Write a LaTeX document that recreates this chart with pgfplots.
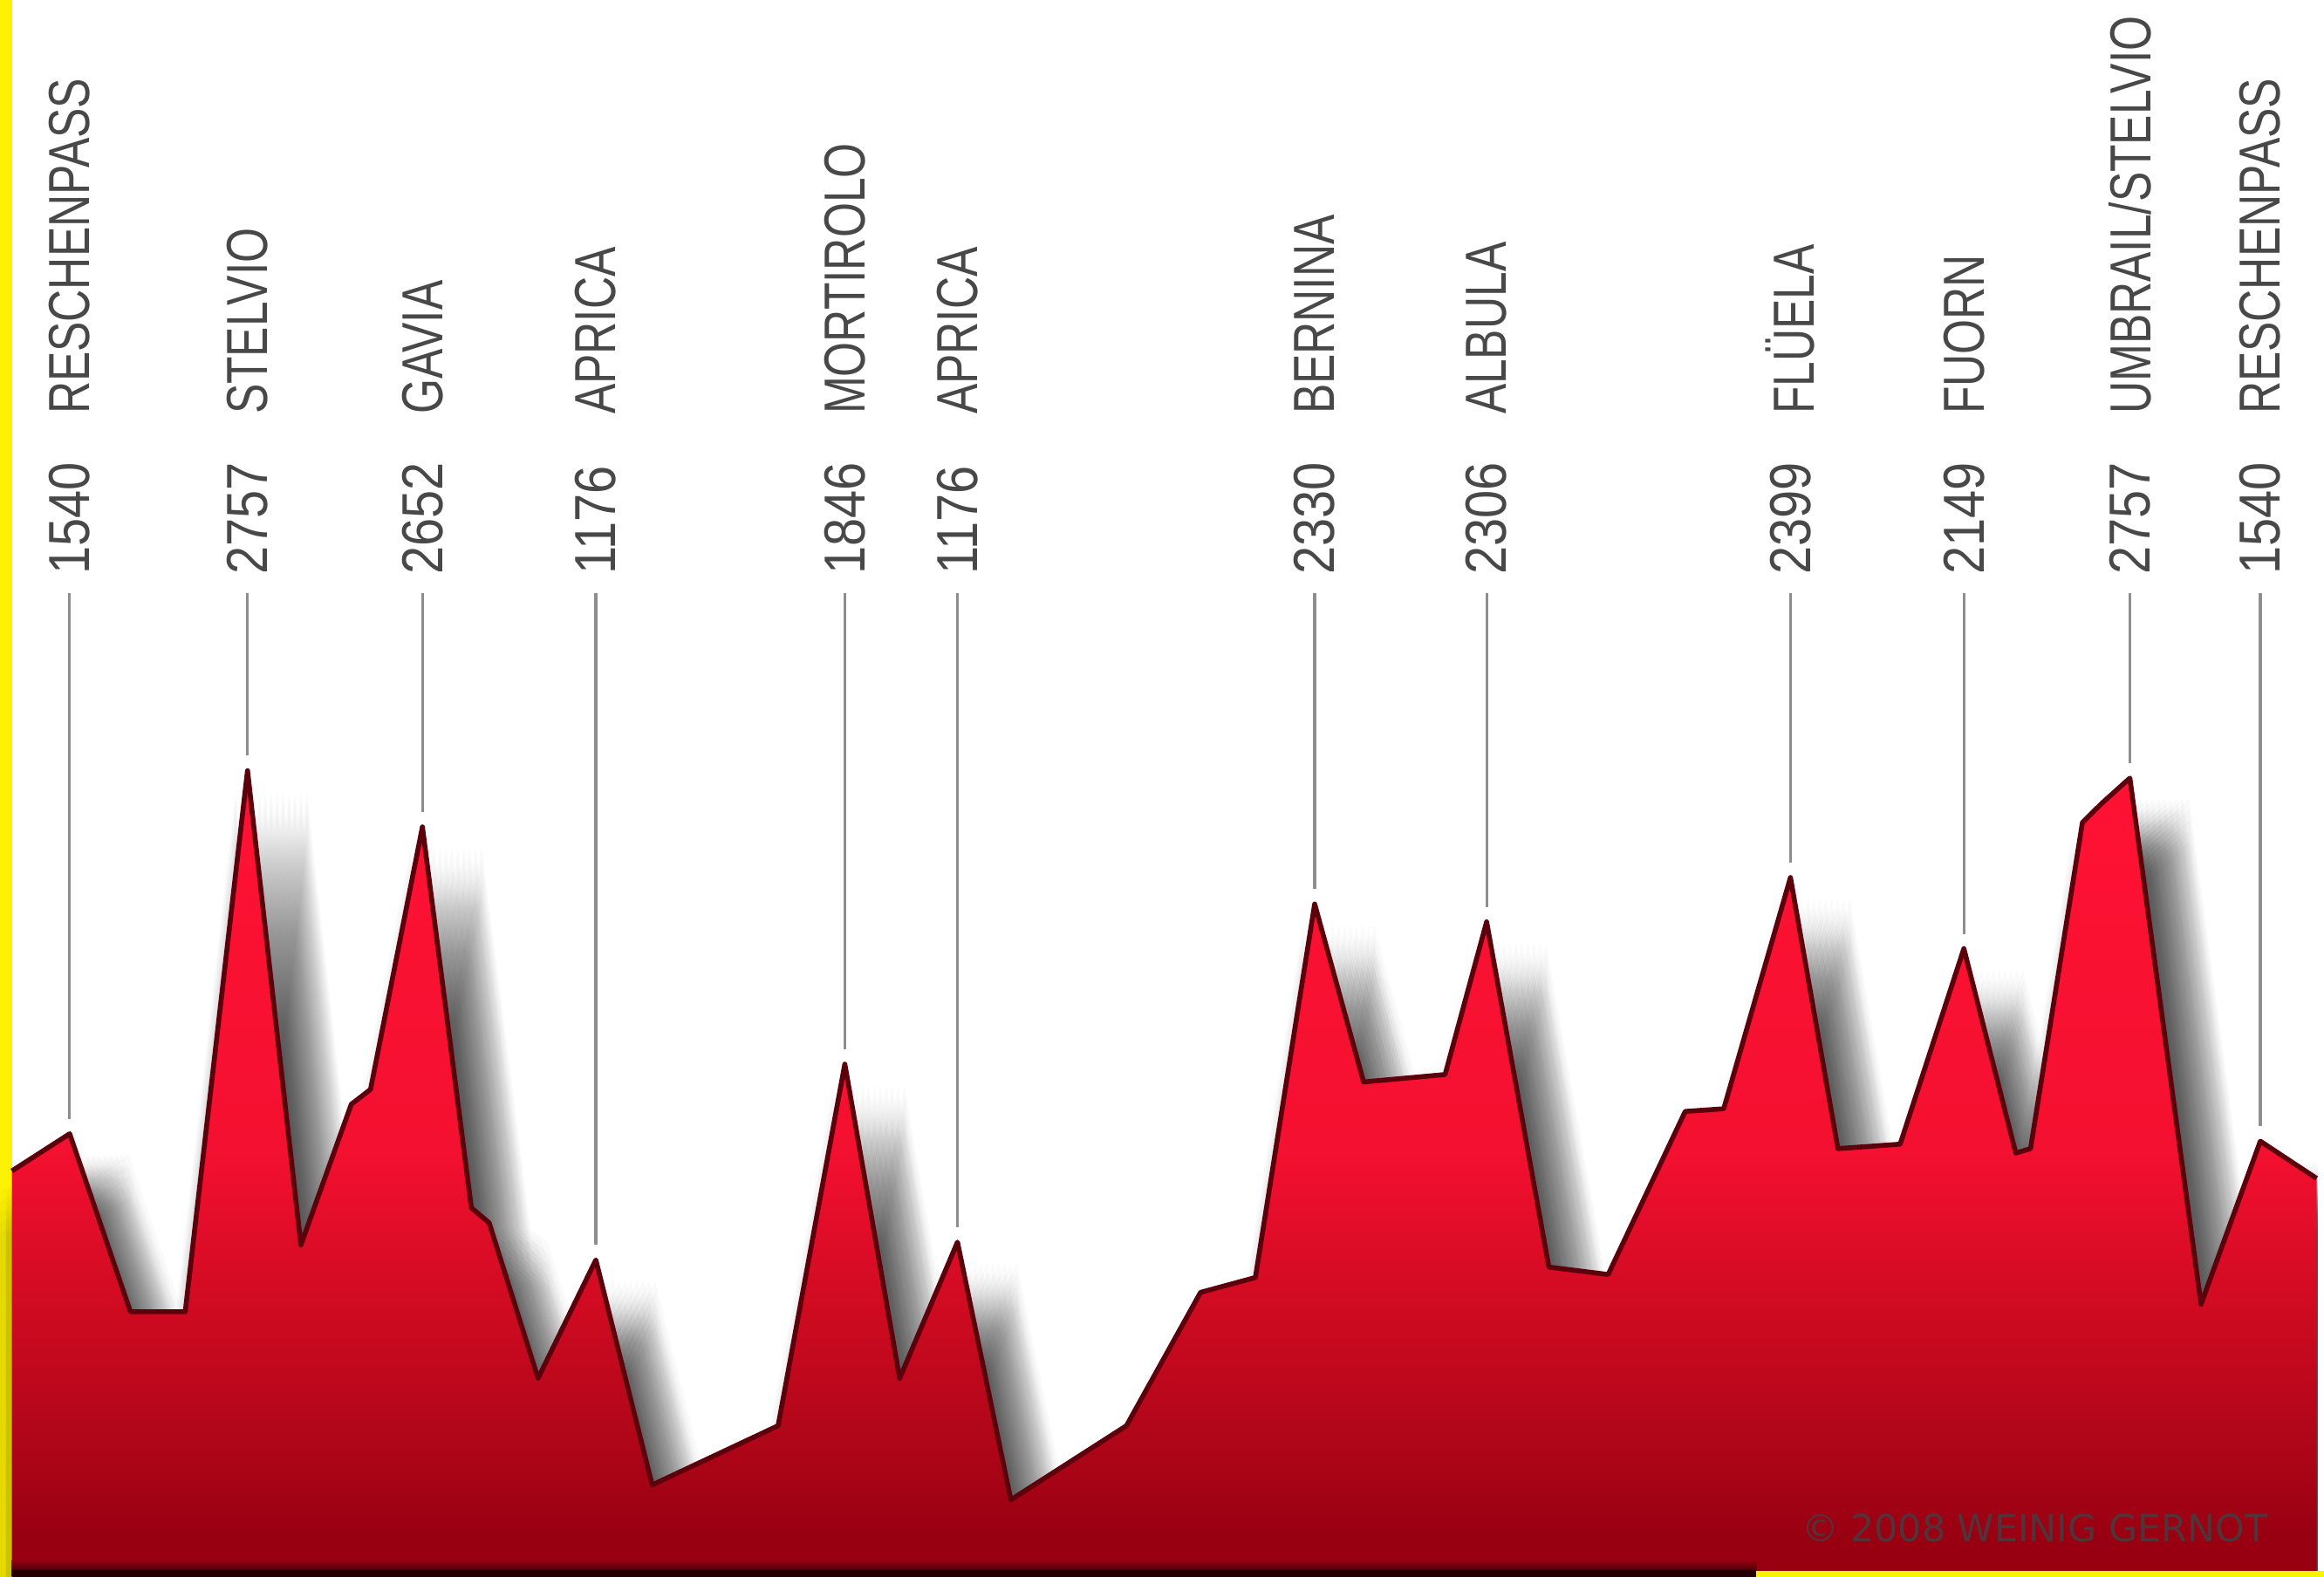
\documentclass[border=0pt]{standalone}
\usepackage{fontspec}
\setmainfont{Liberation Sans}
\newfontfamily\labfont{Liberation Sans}[FakeStretch=0.775]
\newfontfamily\numfont{Liberation Sans}[FakeStretch=0.87]
\newfontfamily\copyfont{DejaVu Sans}
\usepackage{pgfplots}
\pgfplotsset{compat=1.18}
\usepackage{pgfplotstable}

\definecolor{redtop}{HTML}{FF1234}
\definecolor{redhi}{HTML}{F41030}
\definecolor{redmid}{HTML}{CC0A20}
\definecolor{redlow}{HTML}{AA0517}
\definecolor{redbot}{HTML}{980011}
\definecolor{edge}{HTML}{5C000C}
\definecolor{labgray}{HTML}{484848}
\definecolor{linegray}{HTML}{8E8E8E}
\definecolor{copygray}{HTML}{4A3A3F}

% tikz maps the middle 25bp..75bp of the shading onto the path
\pgfdeclareverticalshading{relief}{100bp}{%
  color(0bp)=(redbot); color(27.5bp)=(redbot); color(32bp)=(redlow);
  color(41bp)=(redmid); color(51.5bp)=(redhi); color(75bp)=(redtop);
  color(100bp)=(redtop)}

% profile: x = position along the route, alt = height in m
\pgfplotstableread{
x alt
8 1441
47 1566
88 968
125 968
167 2786
203 1192
237 1665
250 1715
285 2597
318 1317
330 1267
363 744
402 1142
440 386
525 585
570 1800
607 744
646 1202
682 336
760 585
810 1033
847 1083
887 2338
920 1740
975 1765
1003 2278
1045 1118
1085 1093
1137 1641
1163 1650
1208 2427
1240 1516
1282 1531
1325 2188
1360 1501
1370 1516
1405 2612
1418 2676
1437 2761
1485 993
1525 1541
1563 1416
}\profile

% passes: x, lower end of the leader line, its length, labels
\pgfplotstableread[col sep=comma]{
x,lo,len,num,name
47,1616,1767,1540,RESCHENPASS
167,2836,547,2757,STELVIO
285,2647,736,2652,GAVIA
402,1192,2191,1176,APRICA
570,1850,1533,1846,MORTIROLO
646,1252,2131,1176,APRICA
887,2388,995,2330,BERNINA
1003,2328,1055,2306,ALBULA
1208,2477,906,2399,FLÜELA
1325,2238,1145,2149,FUORN
1437,2811,572,2757,UMBRAIL/STELVIO
1525,1591,1792,1540,RESCHENPASS
}\passes

\begin{document}
\begin{tikzpicture}
\begin{axis}[
    scale only axis,
    width=666pt, height=452pt,
    xmin=0, xmax=1568,
    ymin=76.7, ymax=5375.5,
    axis lines=none, ticks=none,
    axis background/.style={fill=white},
  ]
  % yellow strip on the left
  \fill[yellow] (axis cs:0,76.7) rectangle (axis cs:8,5375.5);

  % blurred drop shadow: a 13x5 grid of faint shifted copies
  \pgfplotsinvokeforeach{0,...,64}{%
    \pgfmathsetmacro\sx{6.8+(mod(#1,13)-6)*1.7}%
    \pgfmathsetmacro\sy{-12+(floor(#1/13)-2)*3}%
    \edef\shadowplot{\noexpand\addplot[draw=none, fill=black,
      fill opacity=0.018, xshift=\sx pt, yshift=\sy pt]
      table[x=x, y=alt]{\noexpand\profile} \noexpand\closedcycle;}%
    \shadowplot
  }
  \fill[white] (axis cs:1564,76.7) rectangle (axis cs:1568,5375.5);

  % red profile
  \addplot[draw=none, shade, shading=relief]
    table[x=x, y=alt]{\profile} \closedcycle;
  \addplot[edge, line width=1.4pt, line join=round, mark=none]
    table[x=x, y=alt]{\profile};

  % bottom strips
  \shade[top color=redbot, bottom color=black!90!red]
    (axis cs:8,76.7) rectangle (axis cs:1185,135);
  \fill[black!85!red] (axis cs:8,76.7) rectangle (axis cs:1185,100);
  \fill[yellow] (axis cs:1185,76.7) rectangle (axis cs:1568,97);

  % leader lines
  \addplot[draw=none, mark=none,
    error bars/.cd, y dir=plus, y explicit, error mark=none,
    error bar style={linegray, line width=0.8pt}]
    table[x=x, y=lo, y error=len]{\passes};

  % heights
  \addplot[draw=none, mark=none, point meta=explicit symbolic,
    nodes near coords={\pgfplotspointmeta},
    nodes near coords style={rotate=90, anchor=west, inner sep=0pt,
      font=\numfont\fontsize{16.6}{18}\selectfont, text=labgray}]
    table[x=x, y expr=3443, meta=num]{\passes};

  % names
  \addplot[draw=none, mark=none, point meta=explicit symbolic,
    nodes near coords={\pgfplotspointmeta},
    nodes near coords style={rotate=90, anchor=west, inner sep=0pt,
      font=\labfont\fontsize{16.6}{18}\selectfont, text=labgray}]
    table[x=x, y expr=3981, meta=name]{\passes};

  \node[anchor=base west, inner sep=0pt, text=copygray, text opacity=0.9,
    font=\copyfont\fontsize{10.7}{12}\selectfont]
    at (axis cs:1215,196) {© 2008 WEINIG GERNOT};
\end{axis}
\end{tikzpicture}
\end{document}
